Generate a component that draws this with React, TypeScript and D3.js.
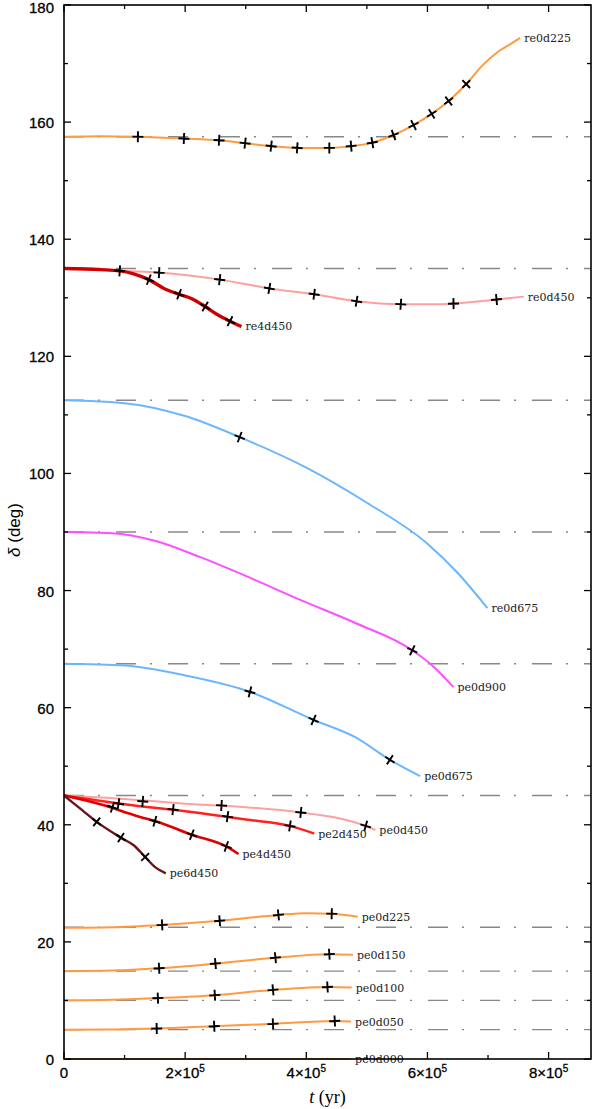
import React, { useEffect, useRef } from 'react';
import * as d3 from 'd3';

// [t (yr), delta (deg)]
const re0d225 = [[0,157.5],[60e3,157.6],[122e3,157.5],[198e3,157.2],[256e3,156.9],[299e3,156.4],[342e3,155.9],[385e3,155.6],[438e3,155.6],[474e3,155.9],[509e3,156.5],[544e3,157.8],[577e3,159.5],[607e3,161.4],[635e3,163.6],[664e3,166.5],[690e3,169.6],[715e3,171.9],[735e3,173.2],[753e3,174.4]];
const re0d225Marks = [[122e3,157.5],[198e3,157.2],[256e3,156.9],[299e3,156.4],[342e3,155.9],[385e3,155.6],[438e3,155.6],[474e3,155.9],[509e3,156.5],[544e3,157.8],[577e3,159.5],[607e3,161.4],[635e3,163.6],[664e3,166.5]];

const re0d450 = [[0,135],[50e3,134.9],[92e3,134.6],[157e3,134.3],[257e3,133.1],[339e3,131.6],[413e3,130.6],[483e3,129.4],[556e3,128.9],[600e3,128.9],[643e3,129.0],[714e3,129.7],[759e3,130.2]];
const re0d450Marks = [[157e3,134.3],[257e3,133.1],[339e3,131.6],[413e3,130.6],[483e3,129.4],[556e3,128.9],[643e3,129.0],[714e3,129.7]];

const re4d450 = [[0,135],[60e3,134.8],[92e3,134.6],[115e3,134.1],[140e3,133.1],[165e3,131.6],[190e3,130.6],[212e3,129.8],[233e3,128.5],[255e3,127.0],[274e3,126.0],[293e3,125.1]];
const re4d450Marks = [[92e3,134.6],[140e3,133.1],[190e3,130.6],[233e3,128.5],[274e3,126.0]];

const re0d675 = [[0,112.5],[100e3,112.0],[200e3,109.8],[290e3,106.2],[400e3,101],[500e3,95],[600e3,88],[650e3,83],[699e3,77]];
const re0d675Marks = [[290e3,106.2]];

const pe0d900 = [[0,90],[80e3,89.8],[150e3,88.5],[225e3,85.7],[300e3,82.5],[390e3,78.4],[480e3,74.5],[575e3,69.8],[610e3,67],[643e3,63.5]];
const pe0d900Marks = [[575e3,69.8]];

const pe0d675 = [[0,67.5],[100e3,67.2],[200e3,65.5],[307e3,62.7],[412e3,57.9],[480e3,55],[538e3,51.1],[588e3,48.3]];
const pe0d675Marks = [[307e3,62.7],[412e3,57.9],[538e3,51.1]];

const pe0d450 = [[0,45],[100e3,44.4],[200e3,43.6],[300e3,43],[391e3,42.1],[450e3,41.2],[498e3,39.8],[514e3,39.1]];
const pe0d450Marks = [[130e3,44.0],[260e3,43.3],[391e3,42.1],[498e3,39.8]];

const pe2d450 = [[0,45],[100e3,43.5],[200e3,42.3],[300e3,40.9],[373e3,39.8],[413e3,38.5]];
const pe2d450Marks = [[90e3,43.6],[180e3,42.6],[270e3,41.4],[373e3,39.8]];

const pe4d450 = [[0,45],[60e3,43.5],[120e3,41.5],[160e3,40.3],[211e3,38.3],[268e3,36.3],[288e3,35.0]];
const pe4d450Marks = [[80e3,43.0],[150e3,40.6],[211e3,38.3],[268e3,36.3]];

const pe6d450 = [[0,45],[30e3,42.5],[54e3,40.5],[94e3,37.8],[115e3,36.5],[134e3,34.5],[150e3,32.8],[168e3,31.7]];
const pe6d450Marks = [[54e3,40.5],[94e3,37.8],[134e3,34.5]];

const pe0d225 = [[0,22.4],[80e3,22.5],[162e3,22.9],[257e3,23.6],[354e3,24.6],[400e3,24.9],[442e3,24.8],[485e3,24.3]];
const pe0d225Marks = [[162e3,22.9],[257e3,23.6],[354e3,24.6],[442e3,24.8]];

const pe0d150 = [[0,15],[80e3,15.1],[157e3,15.5],[250e3,16.3],[349e3,17.3],[438e3,17.9],[477e3,17.8]];
const pe0d150Marks = [[157e3,15.5],[250e3,16.3],[349e3,17.3],[438e3,17.9]];

const pe0d100 = [[0,10],[80e3,10.1],[155e3,10.4],[249e3,10.9],[345e3,11.8],[435e3,12.3],[475e3,12.2]];
const pe0d100Marks = [[155e3,10.4],[249e3,10.9],[345e3,11.8],[435e3,12.3]];

const pe0d050 = [[0,5],[80e3,5.05],[153e3,5.2],[248e3,5.6],[345e3,6.0],[447e3,6.5],[474e3,6.4]];
const pe0d050Marks = [[153e3,5.2],[248e3,5.6],[345e3,6.0],[447e3,6.5]];

const pe0d000 = [[0,0],[474e3,0]];

const refLevels = [157.5, 135, 112.5, 90, 67.5, 45, 22.5, 15, 10, 5];
const xTicks = [0, 2e5, 4e5, 6e5, 8e5];
const yTicks = [0, 20, 40, 60, 80, 100, 120, 140, 160, 180];

const series = [
  { name: 're0d225', line: re0d225, marks: re0d225Marks, color: '#ff9a40', w: 2 },
  { name: 're0d450', line: re0d450, marks: re0d450Marks, color: '#ffa0a0', w: 2 },
  { name: 're4d450', line: re4d450, marks: re4d450Marks, color: '#cc0000', w: 3.4 },
  { name: 're0d675', line: re0d675, marks: re0d675Marks, color: '#6cb6ff', w: 2 },
  { name: 'pe0d900', line: pe0d900, marks: pe0d900Marks, color: '#ff50ff', w: 2 },
  { name: 'pe0d675', line: pe0d675, marks: pe0d675Marks, color: '#6cb6ff', w: 2 },
  { name: 'pe0d450', line: pe0d450, marks: pe0d450Marks, color: '#ffa0a0', w: 2 },
  { name: 'pe2d450', line: pe2d450, marks: pe2d450Marks, color: '#ff2020', w: 2.4 },
  { name: 'pe4d450', line: pe4d450, marks: pe4d450Marks, color: '#e00000', w: 2.6 },
  { name: 'pe6d450', line: pe6d450, marks: pe6d450Marks, color: '#701018', w: 2.4 },
  { name: 'pe0d225', line: pe0d225, marks: pe0d225Marks, color: '#ff9a40', w: 2 },
  { name: 'pe0d150', line: pe0d150, marks: pe0d150Marks, color: '#ff9a40', w: 2 },
  { name: 'pe0d100', line: pe0d100, marks: pe0d100Marks, color: '#ff9a40', w: 2 },
  { name: 'pe0d050', line: pe0d050, marks: pe0d050Marks, color: '#ff9a40', w: 2 },
  { name: 'pe0d000', line: pe0d000, marks: [], color: '#ff9a40', w: 2 },
];

const W = 592, H = 1109;
const margin = { top: 5, right: 1, bottom: 50, left: 64 };

export default function App() {
  const svgRef = useRef<SVGSVGElement>(null);

  useEffect(() => {
    const svg = d3.select(svgRef.current);
    svg.selectAll('*').remove();

    const x = d3.scaleLinear().domain([0, 870000]).range([margin.left, W - margin.right]);
    const y = d3.scaleLinear().domain([0, 180]).range([H - margin.bottom, margin.top]);

    // reference levels
    svg.append('g')
      .selectAll('line')
      .data(refLevels)
      .join('line')
      .attr('x1', x(0)).attr('x2', x(870000))
      .attr('y1', d => y(d)).attr('y2', d => y(d))
      .attr('stroke', '#888')
      .attr('stroke-width', 1.3)
      .attr('stroke-dasharray', '20,14,2,16');

    const line = d3.line<number[]>().x(d => x(d[0])).y(d => y(d[1])).curve(d3.curveMonotoneX);

    // curves
    svg.append('g')
      .selectAll('path')
      .data(series)
      .join('path')
      .attr('d', d => line(d.line))
      .attr('fill', 'none')
      .attr('stroke', d => d.color)
      .attr('stroke-width', d => d.w)
      .attr('stroke-linejoin', 'round');

    // markers: a '+' turned to follow the curve
    const angleAt = (pts: number[][], t: number) => {
      let i = pts.findIndex(p => p[0] >= t);
      if (i <= 0) i = 1;
      if (i >= pts.length) i = pts.length - 1;
      const a = pts[i - 1], b = pts[i];
      return Math.atan2(y(b[1]) - y(a[1]), x(b[0]) - x(a[0])) * 180 / Math.PI;
    };
    const markG = svg.append('g');
    series.forEach(s => {
      s.marks.forEach(m => {
        const g = markG.append('g')
          .attr('transform', `translate(${x(m[0])},${y(m[1])}) rotate(${angleAt(s.line, m[0])})`);
        g.append('path')
          .attr('d', 'M-5.5,0H5.5M0,-5.5V5.5')
          .attr('stroke', '#000')
          .attr('stroke-width', 1.9);
      });
    });

    // curve labels
    svg.append('g')
      .selectAll('text')
      .data(series)
      .join('text')
      .attr('x', d => x(d.line[d.line.length - 1][0]) + 4)
      .attr('y', d => y(d.line[d.line.length - 1][1]) + 4)
      .attr('font-family', 'DejaVu Serif')
      .attr('font-size', 11)
      .attr('fill', '#222')
      .text(d => d.name);

    // frame
    svg.append('rect')
      .attr('x', margin.left).attr('y', margin.top)
      .attr('width', W - margin.left - margin.right)
      .attr('height', H - margin.top - margin.bottom)
      .attr('fill', 'none')
      .attr('stroke', '#000')
      .attr('stroke-width', 1.6);

    // ticks, drawn inward on all four sides
    const tk = svg.append('g').attr('stroke', '#000').attr('stroke-width', 1.3);
    d3.range(0, 180.1, 10).forEach(v => {
      const len = v % 20 === 0 ? 7 : 4;
      tk.append('line').attr('x1', margin.left).attr('x2', margin.left + len).attr('y1', y(v)).attr('y2', y(v));
      tk.append('line').attr('x1', W - margin.right).attr('x2', W - margin.right - len).attr('y1', y(v)).attr('y2', y(v));
    });
    d3.range(0, 870000, 100000).forEach(v => {
      const len = v % 200000 === 0 ? 7 : 4;
      tk.append('line').attr('x1', x(v)).attr('x2', x(v)).attr('y1', y(0)).attr('y2', y(0) - len);
      tk.append('line').attr('x1', x(v)).attr('x2', x(v)).attr('y1', y(180)).attr('y2', y(180) + len);
    });

    // y tick labels
    svg.append('g')
      .selectAll('text')
      .data(yTicks)
      .join('text')
      .attr('x', margin.left - 10)
      .attr('y', d => Math.max(y(d) + 6, 13))
      .attr('text-anchor', 'end')
      .attr('font-family', 'Liberation Sans')
      .attr('font-size', 15)
      .attr('stroke', '#000')
      .attr('stroke-width', 0.3)
      .text(d => d);

    // x tick labels
    const xl = svg.append('g')
      .selectAll('text')
      .data(xTicks)
      .join('text')
      .attr('x', d => x(d))
      .attr('y', y(0) + 19)
      .attr('text-anchor', 'middle')
      .attr('font-family', 'Liberation Sans')
      .attr('font-size', 15)
      .attr('stroke', '#000')
      .attr('stroke-width', 0.3);
    xl.each(function (d) {
      const t = d3.select(this);
      if (d === 0) { t.text('0'); return; }
      t.append('tspan').text(`${d / 1e5}×10`);
      t.append('tspan').attr('dy', -6).attr('font-size', 10).text('5');
    });

    // axis titles
    const xt = svg.append('text')
      .attr('x', (margin.left + W - margin.right) / 2)
      .attr('y', H - 6)
      .attr('text-anchor', 'middle')
      .attr('font-family', 'Liberation Serif')
      .attr('font-size', 18);
    xt.append('tspan').attr('font-style', 'italic').text('t');
    xt.append('tspan').text('  (yr)');

    const yt = svg.append('text')
      .attr('transform', `translate(20,530) rotate(-90)`)
      .attr('text-anchor', 'middle')
      .attr('font-family', 'Liberation Sans')
      .attr('font-size', 17);
    yt.append('tspan').attr('font-style', 'italic').text('δ');
    yt.append('tspan').text(' (deg)');
  }, []);

  return (
    <div style={{ position: 'absolute', left: 0, top: 0 }}>
      <svg ref={svgRef} width={W} height={H} style={{ display: 'block', background: '#fff' }} />
    </div>
  );
}
